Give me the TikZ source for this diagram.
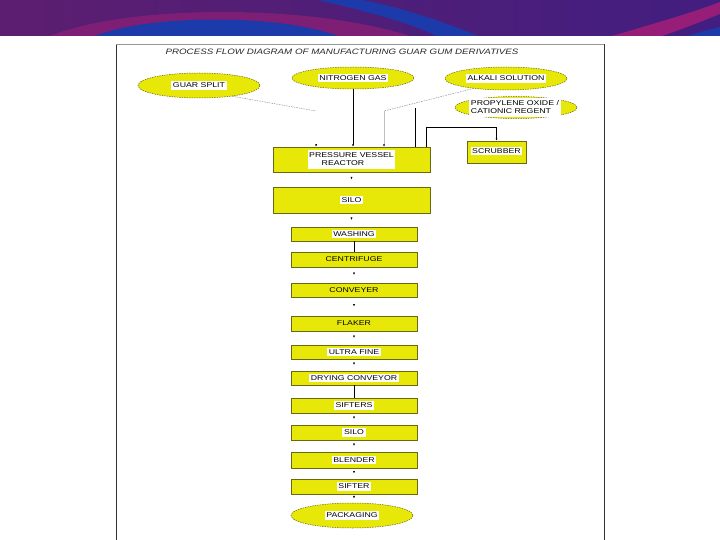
\documentclass[tikz,border=0pt]{standalone}
\usepackage{fontspec}
\setmainfont{Liberation Sans}
\usetikzlibrary{shapes.geometric,arrows.meta,decorations.markings,calc}
\definecolor{ylw}{RGB}{232,232,8}
\definecolor{olv}{RGB}{105,105,20}
\definecolor{bannerL}{RGB}{92,30,112}
\definecolor{bannerR}{RGB}{66,30,128}
\definecolor{bblue}{RGB}{28,58,170}
\definecolor{bmag}{RGB}{150,30,120}
\newcommand\lab[1]{\scalebox{1.25}[1]{\fontsize{7}{8}\selectfont #1}}
\newcommand\wl[1]{{\setlength{\fboxsep}{1.6pt}\colorbox{white}{\lab{#1}}}}
\begin{document}
\begin{tikzpicture}[x=1pt,y=-1pt,
  box/.style={rectangle,fill=ylw,draw=olv,line width=0.4pt,inner sep=0pt,minimum width=126pt,minimum height=14pt},
  bigbox/.style={box,minimum width=157pt},
  oval/.style={ellipse,fill=ylw,draw=olv,dash pattern=on 1.5pt off 1pt,line width=0.5pt,inner sep=0pt,minimum width=122pt,minimum height=23pt},
  lbl/.style={inner sep=0pt},
  dl/.style={draw=gray,line width=0.4pt,dash pattern=on 1.5pt off 1pt},
  tip/.style={line width=0.6pt,-{Latex[length=2.5pt,width=2pt,color=black]}},
  flow/.style={postaction={decorate},decoration={markings,mark=at position 0.5 with {\arrow{Latex[length=2.5pt,width=2pt]}}}},
  ttl/.style={inner sep=0pt,text=black!85}
]
\useasboundingbox (0,0) rectangle (720,540);
% banner
\begin{scope}
  \clip (0,0) rectangle (720,35.5);
  \shade[left color=bannerL,right color=bannerR] (0,0) rectangle (720,36);
  \fill[bmag!60!bannerL] (50,36) .. controls (130,4) and (310,4) .. (410,36) -- cycle;
  \fill[bblue] (95,36) .. controls (150,14) and (280,14) .. (338,36) -- cycle;
  \fill[bblue] (318,0) .. controls (360,10) and (410,22) .. (436,36) -- (478,36) .. controls (440,20) and (395,6) .. (362,0) -- cycle;
  \fill[bmag] (612,36) .. controls (660,22) and (700,10) .. (720,2) -- (720,14) .. controls (700,22) and (680,30) .. (662,36) -- cycle;
  \fill[bblue] (688,36) .. controls (700,32) .. (720,27) -- (720,36) -- cycle;
\end{scope}
% frame
\draw[black!80,line width=0.7pt] (116,540) -- (116,44);
\draw[black!80,line width=0.7pt] (604,540) -- (604,44);
\draw[black!40,line width=0.5pt] (116,44) -- (604,44);
% title
\node[ttl] (title) at (342,52) {\scalebox{1.25}[1]{\fontsize{7.8}{9}\selectfont\itshape PROCESS FLOW DIAGRAM OF MANUFACTURING GUAR GUM DERIVATIVES}};
% inputs
\node[oval,minimum height=25pt] (gs) at (199,85.5) {};
\node[lbl] (gsL) at (gs) {\wl{GUAR SPLIT}};
\node[oval,minimum height=22pt] (ng) at (353,78) {};
\node[lbl] (ngL) at (ng) {\wl{NITROGEN GAS}};
\node[oval] (al) at (506,78.5) {};
\node[lbl] (alL) at (al) {\wl{ALKALI SOLUTION}};
\node[oval,minimum height=22pt] (po) at (516,107.5) {};
\node[lbl] (poL) at (515,107.5) {\wl{\begin{tabular}{@{}l@{}}PROPYLENE OXIDE /\\CATIONIC REGENT\end{tabular}}};
% reactor and scrubber
\node[bigbox,minimum height=25pt] (reactor) at (351.5,159.5) {\wl{\begin{tabular}{@{}l@{}}PRESSURE VESSEL\\\hspace{10pt}REACTOR\end{tabular}}};
\node[box,minimum width=59pt,minimum height=22pt] (scrub) at (496.5,152) {};
\node[lbl] (scrubL) at (496.5,151) {\wl{SCRUBBER}};
\node[bigbox,minimum height=26pt] (silo1) at (351.5,200) {\wl{SILO}};
% chain
\node[box] (wash) at (354,234) {\wl{WASHING}};
\node[box,minimum height=15pt] (centri) at (354,259.5) {\lab{CENTRIFUGE}};
\node[box] (conv) at (354,290) {\lab{CONVEYER}};
\node[box,minimum height=15pt] (flaker) at (354,323.5) {\lab{FLAKER}};
\node[box] (ultra) at (354,352) {\wl{ULTRA FINE}};
\node[box] (dry) at (354,378) {\wl{DRYING CONVEYOR}};
\node[box,minimum height=15pt] (sifters) at (354,405.5) {\wl{SIFTERS}};
\node[box,minimum height=15pt] (silo2) at (354,432.5) {\wl{SILO}};
\node[box,minimum height=16pt] (blend) at (354,460) {\wl{BLENDER}};
\node[box,minimum height=15pt] (sifter) at (354,486.5) {\wl{SIFTER}};
\node[oval,minimum height=25pt] (pack) at (352,515.5) {};
\node[lbl] (packL) at (pack) {\wl{PACKAGING}};
% input connectors
\coordinate (gsE) at (316,111);
\draw[dl] (gs.-18) -- (gsE);
\draw[tip] ($(gsE |- reactor.north)+(0,-3)$) -- (gsE |- reactor.north);
\draw[tip] (ng.south) -- (ng.south |- reactor.north);
\coordinate (alE) at (384,111);
\draw[dl] (al.197) -- (alE);
\draw[tip,draw=black!25] (alE) -- (alE |- reactor.north);
\coordinate (poE) at (415,108);
\draw[line width=0.6pt] (poE) -- (poE |- reactor.north);
\draw[tip] ($(reactor.north east)+(-4,0)$) |- ($(scrub.north)+(0,-13)$) -- (scrub.north);
% chain connectors
\path[flow] (reactor.south) -- (silo1.south |- reactor.south) -- (silo1.north);
\path[flow] (silo1.south) -- (wash.north -| silo1.south);
\draw[line width=0.6pt] (wash.south) -- (centri.north);
\path[flow] (centri.south) -- (conv.north);
\path[flow] (conv.south) -- (flaker.north);
\path[flow] (flaker.south) -- (ultra.north);
\path[flow] (ultra.south) -- (dry.north);
\draw[line width=0.6pt] (dry.south) -- (sifters.north);
\path[flow] (sifters.south) -- (silo2.north);
\path[flow] (silo2.south) -- (blend.north);
\path[flow] (blend.south) -- (sifter.north);
\path[flow] (sifter.south) -- (sifter.south |- pack.north);
\end{tikzpicture}
\end{document}
